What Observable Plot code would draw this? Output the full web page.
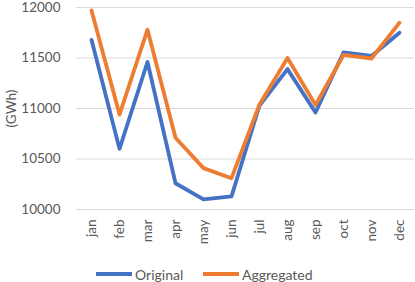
<!DOCTYPE html>
<html>
<head>
<meta charset="utf-8">
<script src="https://cdn.jsdelivr.net/npm/d3@7"></script>
<script src="https://cdn.jsdelivr.net/npm/@observablehq/plot@0.6"></script>
<style>
  html, body { margin: 0; padding: 0; background: #fff; }
  body { position: relative; width: 415px; height: 282px; overflow: hidden; font-family: Lato, "Open Sans", sans-serif; }
  #chart svg { overflow: visible; display: block; }
  #legend { position: absolute; left: 0; top: 264px; width: 415px; height: 20px; font-size: 14px; color: #595959; }
  .item { position: absolute; top: 0; display: flex; align-items: center; height: 20px; }
  .sw { width: 36px; height: 4px; margin-right: 3px; }
</style>
</head>
<body>
<div id="chart"></div>
<div id="legend"></div>
<script>
const months = ["jan","feb","mar","apr","may","jun","jul","aug","sep","oct","nov","dec"];
const original = [11680, 10600, 11460, 10260, 10100, 10130, 11030, 11390, 10960, 11555, 11520, 11750];
const aggregated = [11970, 10940, 11780, 10710, 10410, 10310, 11040, 11500, 11035, 11530, 11495, 11850];
const yTicks = [10000, 10500, 11000, 11500, 12000];
const seriesNames = ["Original", "Aggregated"];
const colors = ["#4472C4", "#ED7D31"];

const data = [];
months.forEach((m, i) => {
  data.push({month: m, value: original[i], series: seriesNames[0]});
  data.push({month: m, value: aggregated[i], series: seriesNames[1]});
});

const plot = Plot.plot({
  width: 415,
  height: 262,
  marginLeft: 76,
  marginRight: 1,
  marginTop: 7,
  marginBottom: 53,
  style: {fontFamily: "Lato, 'Open Sans', sans-serif", fontSize: "13.5px", color: "#595959", background: "#fff", overflow: "visible"},
  x: {type: "point", domain: months, padding: 0.5, label: null, tickSize: 0, tickPadding: 10, tickRotate: -90},
  y: {domain: [10000, 12000], ticks: yTicks, tickFormat: d3.format("d"), tickSize: 0, tickPadding: 16,
      label: "(GWh)", labelAnchor: "center", labelOffset: 70, labelArrow: "none"},
  color: {domain: seriesNames, range: colors},
  marks: [
    Plot.gridY(yTicks, {stroke: "#d9d9d9", strokeOpacity: 1, strokeWidth: 1}),
    Plot.line(data, {x: "month", y: "value", z: "series", stroke: "series", strokeWidth: 3.8, strokeLinejoin: "round", strokeLinecap: "round"})
  ]
});
document.getElementById("chart").appendChild(plot);

const legend = document.getElementById("legend");
const lefts = [96, 203];
seriesNames.forEach((s, i) => {
  const it = document.createElement("div");
  it.className = "item";
  it.style.left = lefts[i] + "px";
  const sw = document.createElement("div");
  sw.className = "sw";
  sw.style.background = colors[i];
  const t = document.createElement("span");
  t.textContent = s;
  it.appendChild(sw); it.appendChild(t);
  legend.appendChild(it);
});
</script>
</body>
</html>
